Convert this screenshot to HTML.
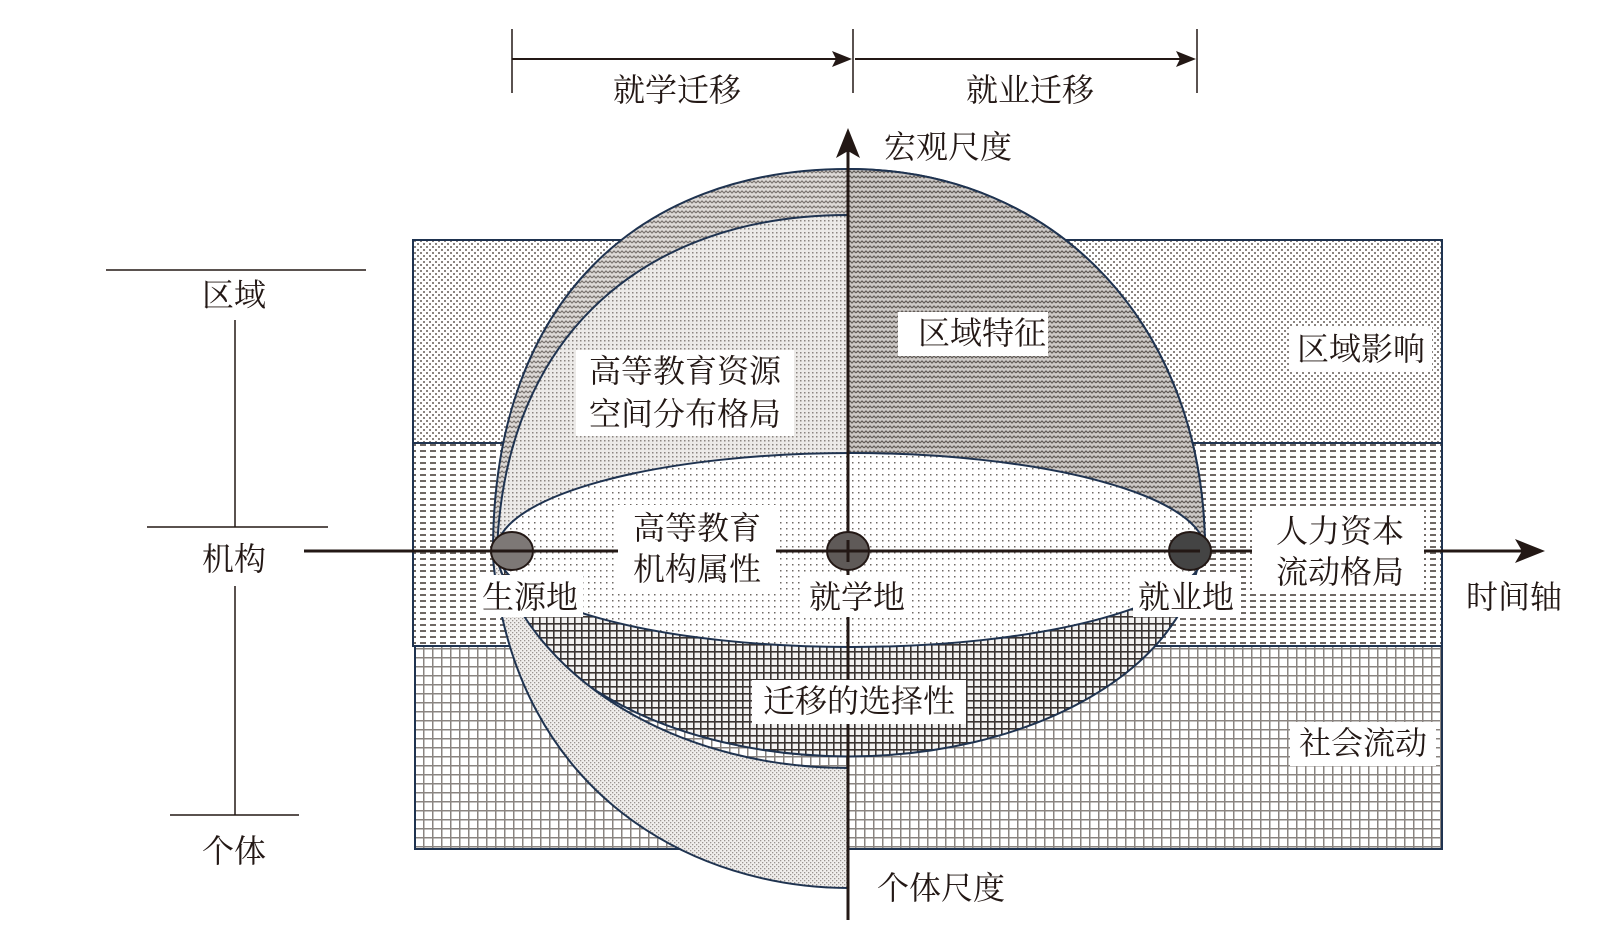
<!DOCTYPE html>
<html><head><meta charset="utf-8"><style>
html,body{margin:0;padding:0;background:#fff}
svg{display:block}
text{font-family:"Liberation Serif","Noto Serif CJK SC","Noto Sans CJK SC",serif;font-size:32px;fill:#231815}
</style></head><body>
<svg width="1604" height="930" viewBox="0 0 1604 930" xmlns="http://www.w3.org/2000/svg">
<defs>
<pattern id="pTop" width="6" height="6" patternUnits="userSpaceOnUse">
<rect width="6" height="6" fill="#fff"/><rect x="0" y="0" width="2" height="2" fill="#8a8480"/><rect x="3" y="3" width="2" height="2" fill="#8a8480"/></pattern>
<pattern id="pMid" width="10" height="6" patternUnits="userSpaceOnUse">
<rect width="10" height="6" fill="#fff"/><rect x="0" y="0" width="6" height="2" fill="#6e6864"/></pattern>
<pattern id="pBot" width="9" height="9" patternUnits="userSpaceOnUse">
<rect width="9" height="9" fill="#fff"/><rect x="0" y="0" width="9" height="1.5" fill="#8a8480"/><rect x="0" y="0" width="1.5" height="9" fill="#8a8480"/></pattern>
<pattern id="pWaveL" width="8" height="5" patternUnits="userSpaceOnUse">
<rect width="8" height="5" fill="#ddd9d6"/><path d="M0 3 L2 1 L4 3 L6 1 L8 3" stroke="#7a7470" stroke-width="1.2" fill="none"/></pattern>
<pattern id="pWaveD" width="8" height="5" patternUnits="userSpaceOnUse">
<rect width="8" height="5" fill="#cdc9c6"/><path d="M0 3 L2 1 L4 3 L6 1 L8 3" stroke="#625c58" stroke-width="1.2" fill="none"/></pattern>
<pattern id="pDots" width="4" height="4" patternUnits="userSpaceOnUse">
<rect width="4" height="4" fill="#eceae8"/><rect x="0" y="0" width="1.5" height="1.5" fill="#8a8480"/></pattern>
<pattern id="pEll" width="6" height="6" patternUnits="userSpaceOnUse">
<rect width="6" height="6" fill="#fff"/><rect x="0" y="0" width="1.5" height="1.5" fill="#6e6864"/></pattern>
<pattern id="pGrid" width="7" height="7" patternUnits="userSpaceOnUse">
<rect width="7" height="7" fill="#f3f2f1"/><rect x="0" y="0" width="7" height="1.6" fill="#3a3432"/><rect x="0" y="0" width="1.6" height="7" fill="#3a3432"/></pattern>
<pattern id="pCres" width="4" height="4" patternUnits="userSpaceOnUse">
<rect width="4" height="4" fill="#f0eeec"/><rect x="0" y="0" width="1.3" height="1.3" fill="#9a9490"/><rect x="2" y="2" width="1.3" height="1.3" fill="#9a9490"/></pattern>
</defs>

<rect x="413" y="240" width="1029" height="203" fill="url(#pTop)" stroke="#1f3350" stroke-width="2"/>
<rect x="413" y="443" width="1029" height="203" fill="url(#pMid)" stroke="#1f3350" stroke-width="2"/>
<rect x="415" y="646" width="1027" height="203" fill="url(#pBot)" stroke="#1f3350" stroke-width="2"/>

<path d="M497 551 A352 217 0 0 0 1200 551 Z" fill="url(#pGrid)" stroke="#1f3350" stroke-width="2"/>

<path d="M493 551 C493 300 640 169 848 169 C1060 169 1205 330 1205 551 Z" fill="url(#pWaveL)" stroke="#1f3350" stroke-width="2"/>
<path d="M848 169 C1060 169 1205 330 1205 551 L848 551 Z" fill="url(#pWaveD)"/>
<path d="M848 169 C1060 169 1205 330 1205 551" fill="none" stroke="#1f3350" stroke-width="2"/>
<path d="M497 551 C505 330 650 215 848 215 L848 551 Z" fill="url(#pDots)" stroke="#1f3350" stroke-width="2"/>

<ellipse cx="851" cy="550" rx="354" ry="97" fill="url(#pEll)" stroke="#1f3350" stroke-width="2"/>

<path d="M493 558 C515 800 700 888 848 888 L848 768 C690 768 540 690 497 560 Z" fill="url(#pCres)" stroke="#1f3350" stroke-width="2"/>

<line x1="304" y1="551" x2="1530" y2="551" stroke="#231815" stroke-width="3"/>
<polygon points="1545,551 1515,539 1522,551 1515,563" fill="#231815"/>
<line x1="848" y1="920" x2="848" y2="145" stroke="#231815" stroke-width="3"/>
<polygon points="848,128 836,158 848,151 860,158" fill="#231815"/>

<ellipse cx="512" cy="551" rx="21" ry="19" fill="#7d7876" stroke="#231815" stroke-width="2"/>
<ellipse cx="848" cy="551" rx="21" ry="19" fill="#5f5a58" stroke="#231815" stroke-width="2"/>
<ellipse cx="1190" cy="551" rx="21" ry="19" fill="#444" stroke="#231815" stroke-width="2"/>
<line x1="304" y1="551" x2="1200" y2="551" stroke="#231815" stroke-width="3"/>
<line x1="848" y1="540" x2="848" y2="562" stroke="#231815" stroke-width="3"/>

<line x1="512" y1="29" x2="512" y2="93" stroke="#231815" stroke-width="1.5"/>
<line x1="853" y1="29" x2="853" y2="93" stroke="#231815" stroke-width="1.5"/>
<line x1="1197" y1="29" x2="1197" y2="93" stroke="#231815" stroke-width="1.5"/>
<line x1="512" y1="59" x2="845" y2="59" stroke="#231815" stroke-width="2"/>
<polygon points="852,59 832,51 836,59 832,67" fill="#231815"/>
<line x1="855" y1="59" x2="1188" y2="59" stroke="#231815" stroke-width="2"/>
<polygon points="1196,59 1176,51 1180,59 1176,67" fill="#231815"/>

<line x1="106" y1="270" x2="366" y2="270" stroke="#231815" stroke-width="1.5"/>
<line x1="235" y1="320" x2="235" y2="527" stroke="#231815" stroke-width="1.5"/>
<line x1="147" y1="527" x2="328" y2="527" stroke="#231815" stroke-width="1.5"/>
<line x1="235" y1="586" x2="235" y2="815" stroke="#231815" stroke-width="1.5"/>
<line x1="170" y1="815" x2="299" y2="815" stroke="#231815" stroke-width="1.5"/>

<g fill="#fff">
<rect x="898" y="312" width="150" height="44"/>
<rect x="1290" y="327" width="142" height="44"/>
<rect x="576" y="350" width="218" height="86"/>
<rect x="618" y="505" width="158" height="86"/>
<rect x="477" y="575" width="106" height="42"/>
<rect x="803" y="575" width="108" height="42"/>
<rect x="1133" y="575" width="108" height="42"/>
<rect x="1252" y="508" width="172" height="86"/>
<rect x="752" y="680" width="214" height="44"/>
<rect x="1290" y="722" width="146" height="44"/>
</g>

<g text-anchor="middle" dominant-baseline="central">
<text x="677" y="90">就学迁移</text>
<text x="1030" y="90">就业迁移</text>
<text x="948" y="147">宏观尺度</text>
<text x="234" y="295">区域</text>
<text x="234" y="559">机构</text>
<text x="234" y="851">个体</text>
<text x="982" y="333">区域特征</text>
<text x="1361" y="349">区域影响</text>
<text x="685" y="371">高等教育资源</text>
<text x="685" y="414">空间分布格局</text>
<text x="697" y="528">高等教育</text>
<text x="697" y="569">机构属性</text>
<text x="530" y="597">生源地</text>
<text x="857" y="597">就学地</text>
<text x="1186" y="597">就业地</text>
<text x="1340" y="531">人力资本</text>
<text x="1340" y="572">流动格局</text>
<text x="1514" y="597">时间轴</text>
<text x="859" y="701">迁移的选择性</text>
<text x="1363" y="743">社会流动</text>
<text x="941" y="888">个体尺度</text>
</g>
</svg>
</body></html>
